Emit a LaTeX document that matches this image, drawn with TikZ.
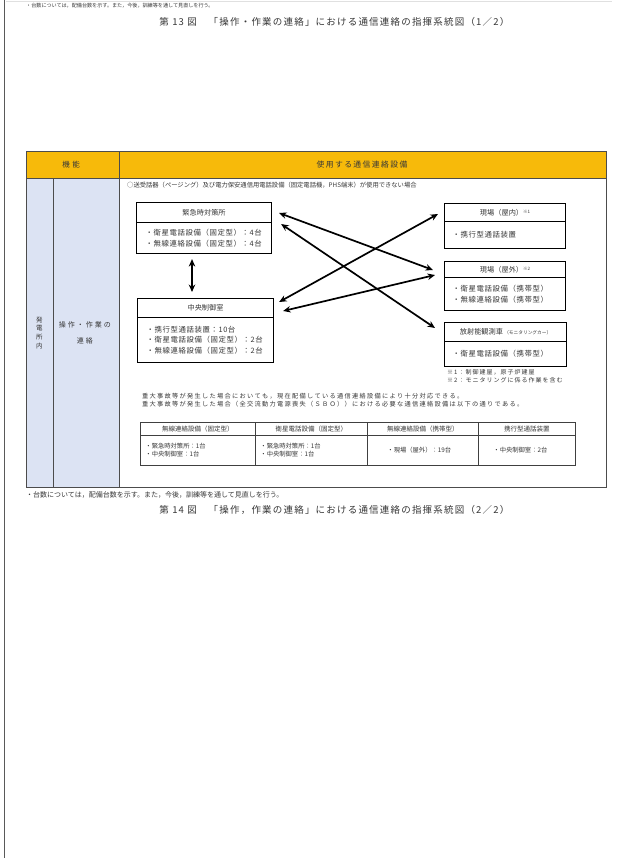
\documentclass[tikz,border=0pt]{standalone}
\usepackage{fontspec}
\setmainfont{Noto Sans CJK JP}
\usetikzlibrary{arrows.meta,calc}
\definecolor{hdrorange}{RGB}{247,186,10}
\definecolor{paleblue}{RGB}{220,227,243}
\definecolor{txtgray}{RGB}{55,55,55}
\newcommand\myfs[2]{\fontsize{#1}{#2}\selectfont}
\makeatletter
\newcommand\lsp[2]{\def\lsp@amt{#1}\lsp@a#2\relax}
\def\lsp@a#1{\ifx\relax#1\else#1\kern\lsp@amt\expandafter\lsp@a\fi}
\makeatother
\begin{document}
\begin{tikzpicture}[x=1pt,y=-1pt,
  every node/.style={inner sep=0pt, text=txtgray},
  tbl/.style={draw=black!70, line width=0.9pt},
  hdrcell/.style={tbl, fill=hdrorange, anchor=north west},
  bluecell/.style={tbl, fill=paleblue, anchor=north west, align=center},
  boxhead/.style={draw=black, line width=1.1pt, anchor=north west, font=\myfs{7.2}{9}},
  boxbody/.style={draw=black, line width=1.1pt, anchor=north west, align=left, font=\myfs{7.4}{10.5}},
  link/.style={line width=1.7pt, black, {Stealth[length=7.5pt,width=6.5pt]}-{Stealth[length=7.5pt,width=6.5pt]}},
  tcell/.style={draw=black!75, line width=0.9pt, anchor=north west},
]
\useasboundingbox (0,0) rectangle (617,858);
\fill[white] (0,0) rectangle (617,858);
\draw[black!12] (6,1.5) -- (612,1.5);
\draw[line width=1.5pt, black!65] (4.5,0) -- (4.5,858);

% page texts
\node[anchor=west, font=\myfs{5.1}{6}] (note13) at (26,6) {・台数については，配備台数を示す。また，今後，訓練等を通して見直しを行う。};
\node[font=\myfs{9.5}{10}] (title13) at (335,22) {\lsp{1.2pt}{第}~\lsp{1.2pt}{13}~\lsp{1.2pt}{図　「操作・作業の連絡」における通信連絡の指揮系統図（1／2）}};

% table frame
\node[hdrcell, minimum width=93, minimum height=27, font=\myfs{7.5}{8}] (hfunc) at (25.5,151) {\lsp{2.5pt}{機能}};
\node[hdrcell, minimum width=487.5, minimum height=27, font=\myfs{7.8}{8}] (huse) at (118.5,151) {\lsp{1.4pt}{使用する通信連絡設備}};
\node[bluecell, minimum width=27, minimum height=308.5, font=\myfs{6.5}{8.7}] (site) at (25.5,178) {発\\電\\所\\内};
\node[bluecell, minimum width=66, minimum height=308.5, font=\myfs{7}{16}] (func) at (52.5,178) {\lsp{2pt}{操作・作業の}\\\lsp{2pt}{連絡}};
\node[tbl, anchor=north west, minimum width=487.5, minimum height=308.5, fill=white] (area) at (118.5,178) {};

\node[anchor=west, font=\myfs{6.3}{7}] (cond) at (127,185) {○送受話器（ページング）及び電力保安通信用電話設備（固定電話機，PHS端末）が使用できない場合};

% boxes
\node[boxhead, minimum width=135, minimum height=20] (kh) at (136,202) {緊急時対策所};
\node[boxbody, text width=117, inner xsep=9, minimum height=31] (kb) at (136,222) {\lsp{0.6pt}{・衛星電話設備（固定型）：4台}\\\lsp{0.6pt}{・無線連絡設備（固定型）：4台}};

\node[boxhead, minimum width=136, minimum height=19] (ch) at (137,298) {中央制御室};
\node[boxbody, text width=118, inner xsep=9, minimum height=45] (cb) at (137,317) {\lsp{0.6pt}{・携行型通話装置：10台}\\\lsp{0.6pt}{・衛星電話設備（固定型）：2台}\\\lsp{0.6pt}{・無線連絡設備（固定型）：2台}};

\node[boxhead, minimum width=121, minimum height=18] (r1h) at (444,203) {現場（屋内）\raisebox{1.5pt}{\myfs{4.5}{5}※1}};
\node[boxbody, text width=105, inner xsep=8, minimum height=27] (r1b) at (444,221) {\lsp{0.6pt}{・携行型通話装置}};

\node[boxhead, minimum width=121, minimum height=16] (r2h) at (444,261) {現場（屋外）\raisebox{1.5pt}{\myfs{4.5}{5}※2}};
\node[boxbody, text width=105, inner xsep=8, minimum height=33] (r2b) at (444,277) {\lsp{0.6pt}{・衛星電話設備（携帯型）}\\\lsp{0.6pt}{・無線連絡設備（携帯型）}};

\node[boxhead, minimum width=122, minimum height=19] (r3h) at (444,322) {放射能観測車\,{\myfs{4.7}{5}（モニタリングカー）}};
\node[boxbody, text width=106, inner xsep=8, minimum height=25] (r3b) at (444,341) {\lsp{0.6pt}{・衛星電話設備（携帯型）}};

\node[anchor=north west, align=left, font=\myfs{6}{8}] (fnotes) at (447,369) {\lsp{1pt}{※1：制御建屋，原子炉建屋}\\\lsp{1pt}{※2：モニタリングに係る作業を含む}};

% arrows
\draw[link] ($(kh.north east)+(7,11)$) -- ($(r2h.north west)+(-11,9)$);
\draw[link] ($(kb.north east)+(9,2)$) -- ($(r3h.north west)+(-9,6)$);
\draw[link] ($(ch.north east)+(5,4)$) -- ($(r1h.north west)+(-6,11)$);
\draw[link] ($(ch.north east)+(9,13)$) -- ($(r2h.north west)+(-9,14)$);
\draw[link] ($(kb.south west)+(56,5)$) -- ($(ch.north west)+(55,-6)$);

% statements
\node[anchor=west, align=left, font=\myfs{6.2}{8.6}] (stmt) at (142,400) {\lsp{1.3pt}{重大事故等が発生した場合においても，現在配備している通信連絡設備により十分対応できる。}\\\lsp{1.3pt}{重大事故等が発生した場合（全交流動力電源喪失（ＳＢＯ））における必要な通信連絡設備は以下の通りである。}};

% SBO table
\node[tcell, minimum width=115, minimum height=13, font=\myfs{6.5}{8}] (t1h) at (140,422) {無線連絡設備（固定型）};
\node[tcell, minimum width=112, minimum height=13, font=\myfs{6.5}{8}] (t2h) at (255,422) {衛星電話設備（固定型）};
\node[tcell, minimum width=111, minimum height=13, font=\myfs{6.5}{8}] (t3h) at (367,422) {無線連絡設備（携帯型）};
\node[tcell, minimum width=97, minimum height=13, font=\myfs{6.5}{8}] (t4h) at (478,422) {携行型通話装置};
\node[tcell, text width=105, inner xsep=5, minimum height=30, align=left, font=\myfs{6.3}{8.2}] (t1b) at (140,435) {・緊急時対策所：1台\\・中央制御室：1台};
\node[tcell, text width=102, inner xsep=5, minimum height=30, align=left, font=\myfs{6.3}{8.2}] (t2b) at (255,435) {・緊急時対策所：1台\\・中央制御室：1台};
\node[tcell, text width=71, inner xsep=20, minimum height=30, align=left, font=\myfs{6.3}{8.2}] (t3b) at (367,435) {・現場（屋外）：19台};
\node[tcell, text width=67, inner xsep=15, minimum height=30, align=left, font=\myfs{6.3}{8.2}] (t4b) at (478,435) {・中央制御室：2台};

\node[anchor=west, font=\myfs{7}{8}] (note14) at (26,495) {・台数については，配備台数を示す。また，今後，訓練等を通して見直しを行う。};
\node[font=\myfs{9.5}{10}] (title14) at (335,510) {\lsp{1.2pt}{第}~\lsp{1.2pt}{14}~\lsp{1.2pt}{図　「操作，作業の連絡」における通信連絡の指揮系統図（2／2）}};
\end{tikzpicture}
\end{document}
